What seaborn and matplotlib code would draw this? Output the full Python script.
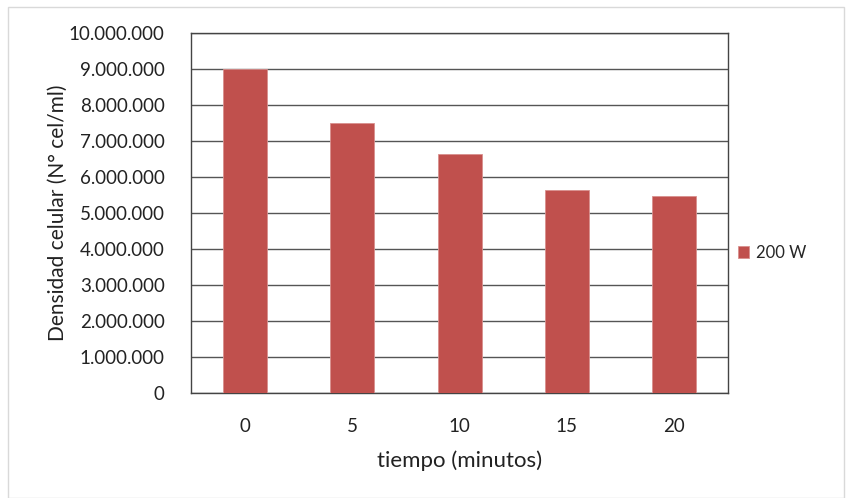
import matplotlib
matplotlib.use("Agg")
import matplotlib.pyplot as plt
from matplotlib.ticker import FuncFormatter, MultipleLocator
from matplotlib.patches import Rectangle
import seaborn as sns
import pandas as pd

# Cell density over exposure time at 200 W
tiempos = ["0", "5", "10", "15", "20"]
densidad = [9000000, 7510000, 6630000, 5650000, 5460000]
serie = "200 W"

df = pd.DataFrame({"tiempo": tiempos, "densidad": densidad, "serie": [serie] * len(tiempos)})

sns.set_theme(style="white")
plt.rcParams["font.family"] = ["Lato", "DejaVu Sans"]

fig = plt.figure(figsize=(8.52, 4.98), dpi=100)
ax = fig.add_axes([0.2242, 0.2108, 0.6303, 0.7229])

sns.barplot(data=df, x="tiempo", y="densidad", hue="serie", palette=["#C0504D"],
            saturation=1, width=0.41, edgecolor="#D9908E", linewidth=0.6, ax=ax, zorder=3)

ax.set_ylim(0, 10000000)
ax.yaxis.set_major_locator(MultipleLocator(1000000))
ax.yaxis.set_major_formatter(FuncFormatter(lambda v, p: f"{int(v):,}".replace(",", ".")))
ax.grid(axis="y", color="#555555", linewidth=1.0, zorder=0)
ax.set_axisbelow(True)
for s in ax.spines.values():
    s.set_color("#444444")
    s.set_linewidth(1.0)

ax.tick_params(axis="both", length=0, labelsize=13.5, colors="#222222")
ax.tick_params(axis="y", pad=19)
ax.tick_params(axis="x", pad=18)
ax.set_xlabel("tiempo (minutos)", fontsize=16, color="#222222", labelpad=11)
ax.set_ylabel("Densidad celular (N° cel/ml)", fontsize=15, color="#222222", labelpad=1)

ax.legend(loc="center left", bbox_to_anchor=(0.99, 0.39), frameon=False,
          fontsize=12, handlelength=0.7, handleheight=0.7, handletextpad=0.4)

# light outer frame of the chart area
fig.patches.append(Rectangle((0.009, 0.0), 0.982, 0.985, transform=fig.transFigure,
                             fill=False, edgecolor="#D9D9D9", linewidth=1.0))

fig.savefig("out.png", dpi=100)
